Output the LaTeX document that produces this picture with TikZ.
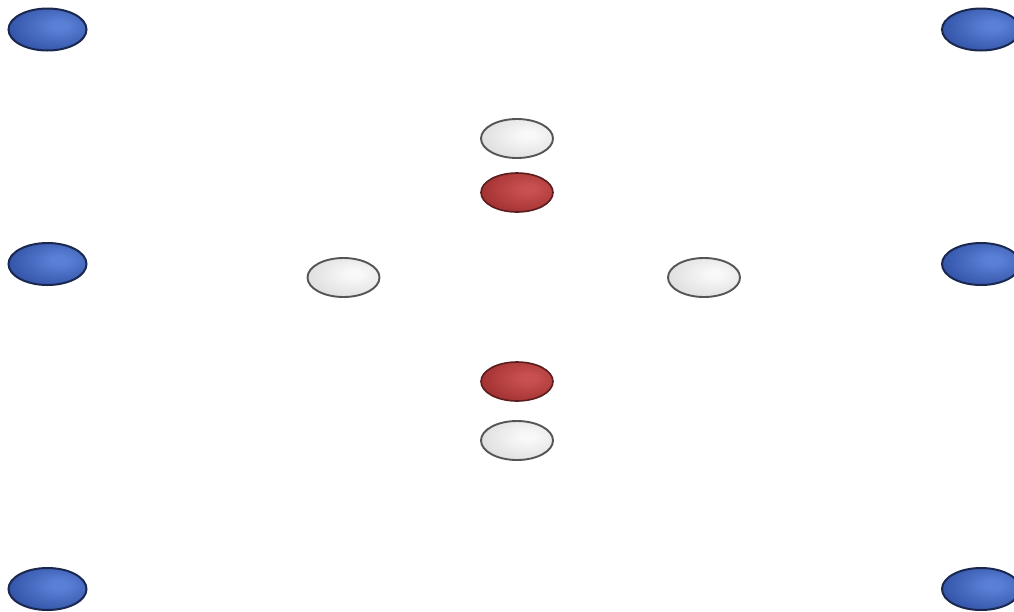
\documentclass[tikz,border=0pt]{standalone}
\usetikzlibrary{shapes.geometric}
\definecolor{bluehi}{HTML}{5A80D6}
\definecolor{bluebase}{HTML}{3556AA}
\definecolor{blueedge}{HTML}{1A2850}
\definecolor{redhi}{HTML}{C85050}
\definecolor{redbase}{HTML}{A53333}
\definecolor{rededge}{HTML}{5A1C1C}
\definecolor{whitehi}{HTML}{F8F8F8}
\definecolor{whitebase}{HTML}{E0E0E0}
\definecolor{whiteedge}{HTML}{555555}
\pgfdeclareradialshading{blueball}{\pgfpoint{8bp}{5bp}}{color(0bp)=(bluehi); color(5bp)=(bluehi); color(30bp)=(bluebase); color(100bp)=(bluebase)}
\pgfdeclareradialshading{redball}{\pgfpoint{8bp}{5bp}}{color(0bp)=(redhi); color(5bp)=(redhi); color(30bp)=(redbase); color(100bp)=(redbase)}
\pgfdeclareradialshading{whiteball}{\pgfpoint{8bp}{5bp}}{color(0bp)=(whitehi); color(5bp)=(whitehi); color(30bp)=(whitebase); color(100bp)=(whitebase)}
\tikzset{
  blueE/.style={ellipse, minimum width=78pt, minimum height=42pt, inner sep=0pt, draw=blueedge, line width=2pt, shading=blueball},
  redE/.style={ellipse, minimum width=72pt, minimum height=39pt, inner sep=0pt, draw=rededge, line width=1.6pt, shading=redball},
  whiteE/.style={ellipse, minimum width=72pt, minimum height=39pt, inner sep=0pt, draw=whiteedge, line width=1.9pt, shading=whiteball}
}
\begin{document}
\begin{tikzpicture}[x=1pt,y=-1pt]
\useasboundingbox (0,0) rectangle (1014,611);
\node[blueE] (bl1) at (47.5,29.5) {};
\node[blueE] (bl2) at (47.5,264) {};
\node[blueE] (bl3) at (47.5,589) {};
\node[blueE] (br1) at (981,29.5) {};
\node[blueE] (br2) at (981,264) {};
\node[blueE] (br3) at (981,589) {};
\node[whiteE] (wt) at (517,138.5) {};
\node[redE] (rt) at (517,192.5) {};
\node[whiteE] (wl) at (343.5,277.5) {};
\node[whiteE] (wr) at (704,277.5) {};
\node[redE] (rb) at (517,381.5) {};
\node[whiteE] (wb) at (517,440.5) {};
\end{tikzpicture}
\end{document}
